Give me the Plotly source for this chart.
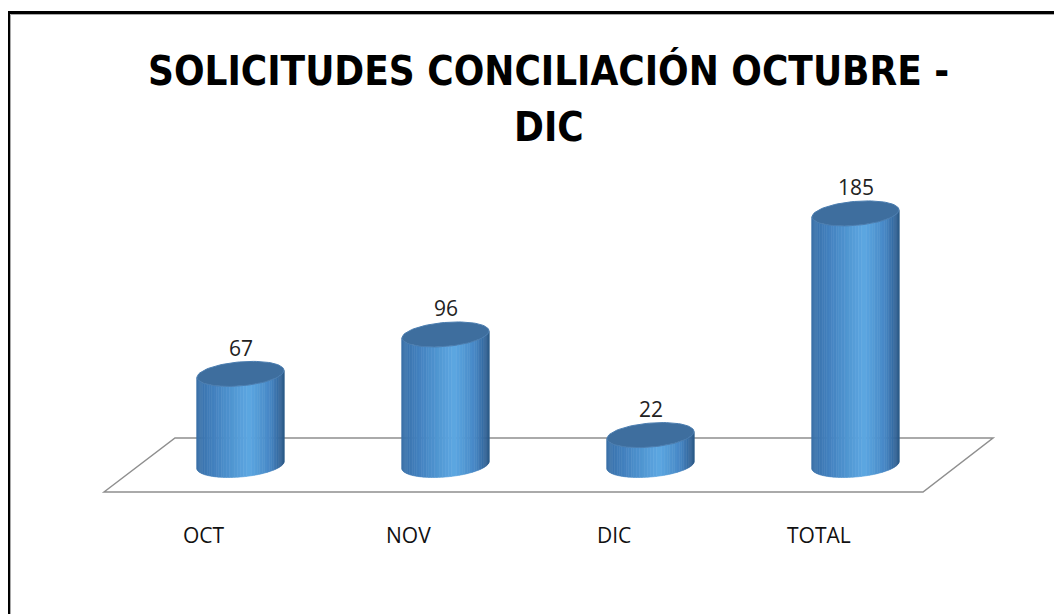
import numpy as np
import plotly.graph_objects as go

# ---- data ----
categories = ["OCT", "NOV", "DIC", "TOTAL"]
values = [67, 96, 22, 185]
title_lines = ["SOLICITUDES CONCILIACIÓN OCTUBRE -", "DIC"]

# ---- layout geometry (page pixels; the page body adds an 8px margin) ----
OFF = 8
W, H = 1054, 606                 # figure size
X0_PX, DX_PX = 240.5 - OFF, 205  # figure-pixel x of first category, spacing
Y0_PX, KY = 465 - OFF, 1.36      # figure-pixel y of value 0, pixels per unit
x_range = [(0 - X0_PX) / DX_PX, (W - X0_PX) / DX_PX]
y_range = [(Y0_PX - H) / KY, Y0_PX / KY]

half_w = 43.5 / DX_PX            # cylinder half width (x units)
ry = 12 / KY                     # ellipse vertical semi-axis (y units)
shear = (3.5 / KY) / half_w      # slight tilt of ellipses

# body gradient stops (u across the cylinder, colour)
stops = [(0.0, (0x3A, 0x70, 0xA8)), (0.18, (0x42, 0x80, 0xBE)),
         (0.6, (0x5D, 0xA8, 0xE2)), (0.85, (0x46, 0x86, 0xC4)),
         (1.0, (0x2C, 0x5A, 0x8A))]


def shade(u):
    for (u0, c0), (u1, c1) in zip(stops[:-1], stops[1:]):
        if u <= u1:
            f = (u - u0) / (u1 - u0)
            c = [round(a + (b - a) * f) for a, b in zip(c0, c1)]
            return "rgb(%d,%d,%d)" % tuple(c)
    return "rgb(%d,%d,%d)" % stops[-1][1]


fig = go.Figure()

N = 48
ts = np.linspace(0, np.pi, N + 1)
for k in range(N):
    t1, t2 = ts[k], ts[k + 1]
    xs, ys = [], []
    for i, v in enumerate(values):
        c = i
        xa, xb = c - half_w * np.cos(t1), c - half_w * np.cos(t2)
        sa, sb = shear * (xa - c), shear * (xb - c)
        ya0, yb0 = 0 - ry * np.sin(t1) + sa, 0 - ry * np.sin(t2) + sb
        ya1, yb1 = v - ry * np.sin(t1) + sa, v - ry * np.sin(t2) + sb
        xs += [xa, xb, xb, xa, xa, None]
        ys += [ya0, yb0, yb1, ya1, ya0, None]
    u = (0.5 - 0.5 * np.cos((t1 + t2) / 2))
    col = shade(u)
    fig.add_trace(go.Scatter(x=xs, y=ys, mode="lines", fill="toself",
                             fillcolor=col, line=dict(width=0.6, color=col),
                             hoverinfo="skip", showlegend=False))

# top ellipses
te = np.linspace(0, 2 * np.pi, 80)
xs, ys = [], []
for i, v in enumerate(values):
    ex = i + half_w * np.cos(te)
    ey = v + ry * np.sin(te) + shear * (ex - i)
    xs += list(ex) + [None]
    ys += list(ey) + [None]
fig.add_trace(go.Scatter(x=xs, y=ys, mode="lines", fill="toself",
                         fillcolor="#3E6E9E", line=dict(width=1, color="#4A7DB0"),
                         hoverinfo="skip", showlegend=False))

# value labels
for i, v in enumerate(values):
    fig.add_annotation(x=i, y=v + ry, text=str(v), showarrow=False,
                       yanchor="middle", yshift=14,
                       font=dict(family="Open Sans, Noto Sans, sans-serif", size=21, color="#222"))

# category labels
for i, cat in enumerate(categories):
    fig.add_annotation(x=i, y=1 - (535 - OFF) / H, yref="paper", text=cat, showarrow=False,
                       xshift=-37, yanchor="middle",
                       font=dict(family="Open Sans, Noto Sans, sans-serif", size=21, color="#111"))

# title (two centred lines)
for j, (line, cy) in enumerate(zip(title_lines, [70, 127])):
    fig.add_annotation(x=(548.5 - OFF) / W, xref="paper", y=1 - (cy - OFF) / H, yref="paper",
                       text="<b>%s</b>" % line, showarrow=False, xanchor="center", yanchor="middle",
                       font=dict(family="DejaVu Sans Condensed, sans-serif", size=40, color="black"))


def P(px, py):
    return "%.5f,%.5f" % ((px - OFF) / W, 1 - (py - OFF) / H)


shapes = [
    # floor
    dict(type="path", xref="paper", yref="paper", layer="below",
         path="M%s L%s L%s L%s Z" % (P(104, 492), P(175, 438), P(993, 438), P(923, 492)),
         line=dict(color="#8F8F8F", width=1.5)),
    # chart border (black with grey inner line)
    dict(type="path", xref="paper", yref="paper", layer="above",
         path="M%s L%s L%s" % (P(8.5, 640), P(8.5, 12.5), P(1080, 12.5)),
         line=dict(color="black", width=3)),
    dict(type="path", xref="paper", yref="paper", layer="above",
         path="M%s L%s L%s" % (P(10.5, 640), P(10.5, 14.5), P(1080, 14.5)),
         line=dict(color="#A8A8A8", width=1)),
]

fig.update_layout(
    width=W, height=H,
    margin=dict(l=0, r=0, t=0, b=0),
    paper_bgcolor="white", plot_bgcolor="white",
    showlegend=False,
    xaxis=dict(range=x_range, visible=False, fixedrange=True),
    yaxis=dict(range=y_range, visible=False, fixedrange=True),
    shapes=shapes,
)

fig.write_html("out.html")
